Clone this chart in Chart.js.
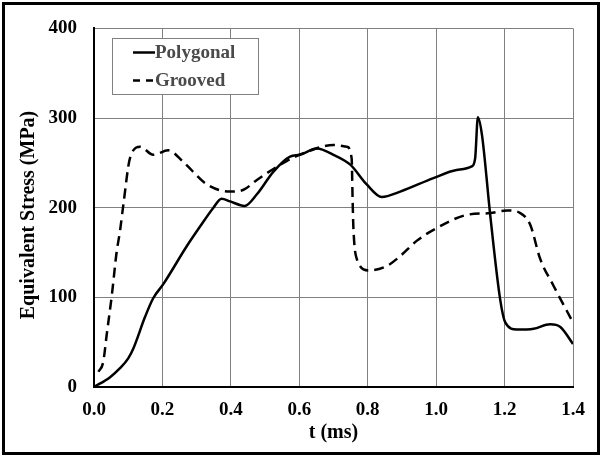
<!DOCTYPE html>
<html>
<head>
<meta charset="utf-8">
<script src="https://cdn.jsdelivr.net/npm/chart.js@4/dist/chart.umd.min.js"></script>
<style>
  html, body { margin: 0; padding: 0; background: #fff; }
  #wrap { width: 600px; height: 455px; position: relative; }
</style>
</head>
<body>
<div id="wrap"><canvas id="c" width="600" height="455"></canvas></div>
<script>
// ---- data ----
const xTicks = [0.0, 0.2, 0.4, 0.6, 0.8, 1.0, 1.2, 1.4];
const yTicks = [0, 100, 200, 300, 400];

const polyT = [0.000, 0.047, 0.076, 0.100, 0.115, 0.149, 0.173, 0.203, 0.271, 0.310, 0.349, 0.373, 0.398, 0.440, 0.476, 0.524, 0.573, 0.602, 0.651, 0.700, 0.749, 0.797, 0.841, 0.895, 0.992, 1.060, 1.104, 1.114, 1.122, 1.134, 1.158, 1.187, 1.202, 1.236, 1.285, 1.333, 1.363, 1.400];
const polyS = [0, 11, 21, 32, 43, 78, 99, 115, 157, 179, 200, 210, 207, 202, 215, 240, 257, 259, 266, 259, 248, 226, 212, 218, 233, 242, 246, 255, 301, 281, 192, 98, 72, 64, 65, 70, 67, 48];

const groovT = [0.013, 0.027, 0.037, 0.052, 0.066, 0.076, 0.086, 0.105, 0.135, 0.173, 0.217, 0.261, 0.330, 0.398, 0.437, 0.476, 0.563, 0.620, 0.700, 0.739, 0.753, 0.756, 0.758, 0.768, 0.802, 0.856, 0.895, 0.943, 1.000, 1.090, 1.158, 1.207, 1.246, 1.275, 1.304, 1.343, 1.400];
const groovS = [17, 28, 58, 102, 150, 174, 204, 255, 268, 259, 264, 251, 226, 218, 220, 231, 252, 262, 270, 268, 255, 207, 179, 143, 130, 135, 146, 163, 177, 192, 194, 197, 194, 181, 143, 113, 72];

const seriesNames = ['Polygonal', 'Grooved'];
const xTitle = 't (ms)';
const yTitle = 'Equivalent Stress (MPa)';

const toPts = (xs, ys) => xs.map((x, i) => ({ x: x, y: ys[i] }));

const SERIF = "'Liberation Serif', 'Times New Roman', serif";

const frame = {
  id: 'frame',
  afterDraw(chart) {
    const ctx = chart.ctx;
    ctx.save();
    // outer frame
    ctx.strokeStyle = '#000';
    ctx.lineWidth = 3;
    ctx.setLineDash([]);
    ctx.strokeRect(3.5, 3.5, 595, 450);
    // y axis title
    ctx.save();
    ctx.translate(29, 215);
    ctx.rotate(-Math.PI / 2);
    ctx.fillStyle = '#000';
    ctx.font = "bold 20px " + SERIF;
    ctx.textAlign = 'center';
    ctx.textBaseline = 'middle';
    ctx.fillText(yTitle, 0, 0);
    ctx.restore();
    // legend box
    const bx = 112.5, by = 38.5, bw = 146, bh = 56;
    ctx.fillStyle = '#fff';
    ctx.fillRect(bx, by, bw, bh);
    ctx.strokeStyle = '#808080';
    ctx.lineWidth = 1;
    ctx.strokeRect(bx, by, bw, bh);
    const rows = [52.5, 80.5];
    chart.data.datasets.forEach((ds, i) => {
      const y = rows[i];
      ctx.strokeStyle = ds.borderColor;
      ctx.lineWidth = ds.borderWidth;
      ctx.setLineDash(i === 1 ? [7, 6] : []);
      ctx.beginPath();
      ctx.moveTo(133, y);
      ctx.lineTo(155, y);
      ctx.stroke();
      ctx.setLineDash([]);
      ctx.fillStyle = '#4a4a4a';
      ctx.font = "bold 19px " + SERIF;
      ctx.textBaseline = 'middle';
      ctx.textAlign = 'left';
      ctx.fillText(ds.label, 155, y + 1);
    });
    ctx.restore();
  }
};

new Chart(document.getElementById('c'), {
  type: 'line',
  data: {
    datasets: [
      {
        label: seriesNames[0],
        data: toPts(polyT, polyS),
        borderColor: '#000',
        borderWidth: 2.5,
        pointRadius: 0,
        fill: false,
        cubicInterpolationMode: 'monotone'
      },
      {
        label: seriesNames[1],
        data: toPts(groovT, groovS),
        borderColor: '#000',
        borderWidth: 2.5,
        borderDash: [10, 6],
        pointRadius: 0,
        fill: false,
        cubicInterpolationMode: 'monotone'
      }
    ]
  },
  options: {
    responsive: false,
    animation: false,
    devicePixelRatio: 1,
    layout: { padding: { left: 0, top: 26, right: 27, bottom: 0 } },
    plugins: {
      legend: { display: false },
      tooltip: { enabled: false }
    },
    scales: {
      x: {
        type: 'linear',
        min: xTicks[0],
        max: xTicks[xTicks.length - 1],
        afterBuildTicks(scale) { scale.ticks = xTicks.map(v => ({ value: v })); },
        afterFit(scale) { scale.height = 68; },
        ticks: {
          color: '#000',
          padding: 12,
          font: { family: SERIF, size: 19, weight: 'bold' },
          callback: v => Number(v).toFixed(1),
          maxRotation: 0
        },
        grid: { color: '#808080', lineWidth: 1, drawTicks: false },
        border: { display: true, color: '#000', width: 2 },
        title: {
          display: true,
          text: xTitle,
          color: '#000',
          font: { family: SERIF, size: 20, weight: 'bold' },
          padding: { top: 0, bottom: 10 }
        }
      },
      y: {
        type: 'linear',
        min: yTicks[0],
        max: yTicks[yTicks.length - 1],
        afterBuildTicks(scale) { scale.ticks = yTicks.map(v => ({ value: v })); },
        afterFit(scale) { scale.width = 94; },
        ticks: {
          color: '#000',
          padding: 17,
          font: { family: SERIF, size: 19, weight: 'bold' }
        },
        grid: { color: '#808080', lineWidth: 1, drawTicks: false },
        border: { display: true, color: '#000', width: 2 },
        title: { display: false }
      }
    }
  },
  plugins: [frame]
});
</script>
</body>
</html>
